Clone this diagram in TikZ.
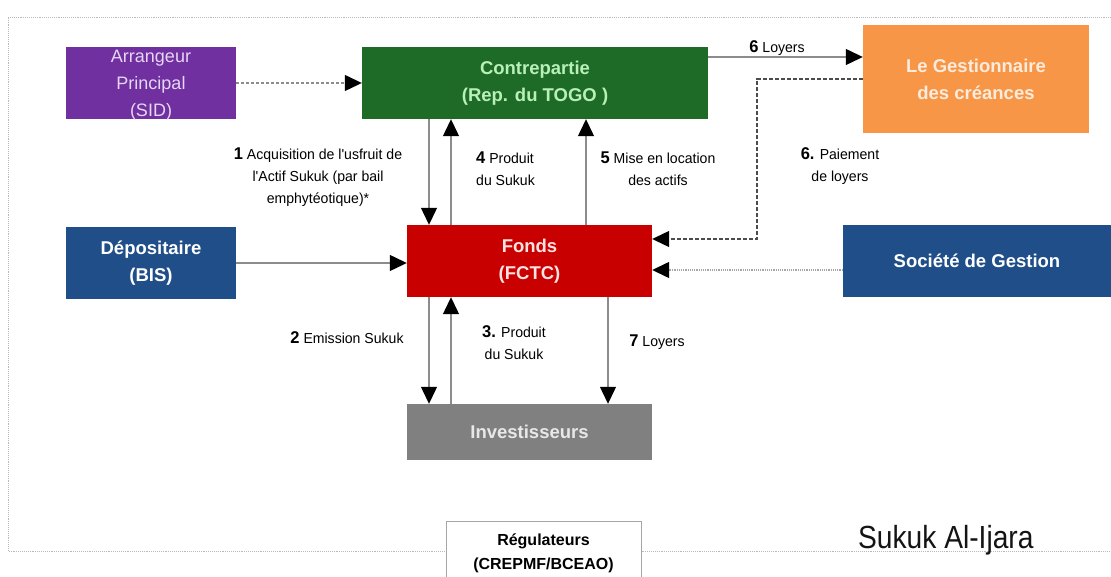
\documentclass[tikz,border=0pt]{standalone}
\usepackage{fontspec}
\setmainfont{Liberation Sans}
\newfontfamily\narrowf[FakeStretch=0.97]{Liberation Sans}
\newfontfamily\condf[FakeStretch=0.88]{Liberation Sans}
\usetikzlibrary{arrows.meta,calc}
\definecolor{cpurple}{HTML}{7030A0}
\definecolor{cpurpletxt}{HTML}{E6D6F5}
\definecolor{cgreen}{HTML}{1D6B26}
\definecolor{cgreentxt}{HTML}{B8F0B8}
\definecolor{corange}{HTML}{F79646}
\definecolor{corangetxt}{HTML}{FDEBDD}
\definecolor{cblue}{HTML}{1F4E89}
\definecolor{cred}{HTML}{C80000}
\definecolor{credtxt}{HTML}{FFE2E2}
\definecolor{cgray}{HTML}{808080}
\definecolor{cgraytxt}{HTML}{E8E8E8}
\definecolor{cline}{HTML}{8C8C8C}
\newcommand\nb[1]{{\bfseries\fontsize{17}{17}\selectfont #1}}
\begin{document}
\begin{tikzpicture}[x=1pt,y=-1pt,
  box/.style={rectangle,inner sep=0pt,align=center,font=\fontsize{18.5}{27}\selectfont\bfseries},
  conn/.style={draw=cline,line width=1.2pt,-{Triangle[length=17pt,width=16pt,color=black]}},
  lbl/.style={font=\narrowf\fontsize{14.5}{22}\selectfont,align=center,inner sep=0pt,text=black}]
\useasboundingbox (0,0) rectangle (1111,577);
% outer dotted frame
\draw[densely dotted,gray!55,line width=0.9pt] (1111,17) -- (8,17) -- (8,551) -- (1111,551);
% boxes
\node[box,fill=cpurple,minimum width=170pt,minimum height=72pt] (arr) at (151,83) {};
\node[align=center,inner sep=0pt,text=cpurpletxt,font=\fontsize{18}{27}\selectfont] (arrtxt) at (151,85) {Arrangeur\\Principal\\(SID)};
\node[box,fill=cgreen,text=cgreentxt,minimum width=346pt,minimum height=72pt] (cp) at (535,83) {Contrepartie\\(Rep. du TOGO )};
\node[box,fill=corange,text=corangetxt,minimum width=226pt,minimum height=108pt] (gest) at (976,79) {Le Gestionnaire\\des créances};
\node[box,fill=cblue,text=white,minimum width=170pt,minimum height=72pt] (dep) at (151,263) {Dépositaire\\(BIS)};
\node[box,fill=cred,text=credtxt,minimum width=245pt,minimum height=72pt] (fonds) at (529.5,261) {Fonds\\(FCTC)};
\node[box,fill=cblue,text=white,minimum width=268pt,minimum height=72pt] (soc) at (977,261) {Société de Gestion};
\node[box,fill=cgray,text=cgraytxt,minimum width=245pt,minimum height=56pt] (inv) at (529.5,432) {Investisseurs};
\node[box,fill=white,draw=gray!70,line width=1pt,text=black,minimum width=195pt,minimum height=64pt,font=\fontsize{16}{24}\selectfont\bfseries] (reg) at (543.5,553) {Régulateurs\\(CREPMF/BCEAO)};
\node[anchor=base west,inner sep=0pt,font=\condf\fontsize{32}{32}\selectfont,text=black!92] (title) at (858,548) {Sukuk Al-Ijara};
% column / row coordinates
\coordinate (ca) at (429,0);
\coordinate (cb) at (451,0);
\coordinate (cc) at (586,0);
\coordinate (cd) at (608,0);
\coordinate (cv) at (757,0);
\coordinate (ra) at (0,57);
\coordinate (rb) at (0,239);
\coordinate (rc) at (0,270);
% connectors
\draw[conn,densely dashed] (arr.east) -- (cp.west);
\draw[conn] (cp.east |- ra) -- (gest.west |- ra);
\draw[conn,dash pattern=on 4pt off 2pt,draw=black!70] (gest.west) -- (gest.west -| cv) -- (cv |- rb) -- (fonds.east |- rb);
\draw[conn,densely dotted,draw=gray!70,line width=1.4pt] (soc.west |- rc) -- (fonds.east |- rc);
\draw[conn] (dep.east) -- (dep.east -| fonds.west);
\draw[conn] (cp.south -| ca) -- (fonds.north -| ca);
\draw[conn] (fonds.north -| cb) -- (cp.south -| cb);
\draw[conn] (fonds.north -| cc) -- (cp.south -| cc);
\draw[conn] (fonds.south -| ca) -- (inv.north -| ca);
\draw[conn] (inv.north -| cb) -- (fonds.south -| cb);
\draw[conn] (fonds.south -| cd) -- (inv.north -| cd);
% labels
\node[lbl] (l1) at (318,177) {\nb{1} Acquisition de l'usfruit de\\l'Actif Sukuk (par bail\\emphytéotique)*};
\node[lbl,align=left,anchor=north west] (l4) at (476,152) {\nb{4} Produit\\du Sukuk};
\node[lbl,anchor=north] (l5) at (658,152) {\nb{5} Mise en location\\des actifs};
\node[lbl] (l6) at (777,48) {\nb{6} Loyers};
\node[lbl,anchor=north] (l6p) at (840,147) {\nb{6.} Paiement\\de loyers};
\node[lbl] (l2) at (347,338) {\nb{2} Emission Sukuk};
\node[lbl,anchor=north] (l3) at (514,325) {\nb{3.} Produit\\du Sukuk};
\node[lbl] (l7) at (657,342) {\nb{7} Loyers};
\end{tikzpicture}
\end{document}
